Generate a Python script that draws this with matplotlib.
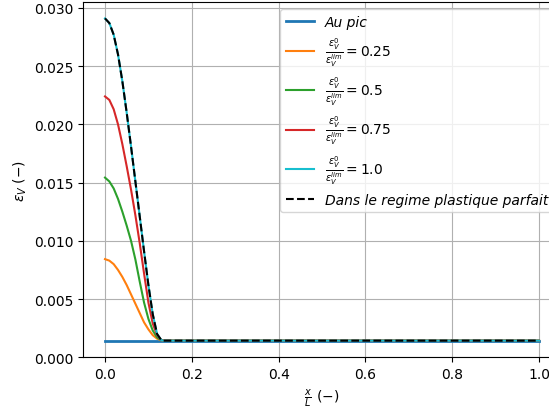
import matplotlib
matplotlib.use("Agg")
import matplotlib.pyplot as plt

# x positions (x/L)
x = [0.0, 0.01, 0.02, 0.03, 0.04, 0.05, 0.06, 0.07, 0.08, 0.09, 0.10, 0.11, 0.12, 0.13, 0.134, 1.0]

base = 0.00143
au_pic = [base] * len(x)
r025 = [0.00843, 0.0083, 0.0080, 0.0075, 0.0069, 0.0062, 0.0054, 0.0046, 0.0038, 0.0030, 0.0024, 0.0019, 0.0016, 0.00146, base, base]
r050 = [0.01543, 0.0151, 0.0145, 0.0136, 0.0125, 0.0113, 0.0100, 0.0084, 0.0065, 0.0047, 0.0033, 0.0023, 0.0017, 0.00146, base, base]
r075 = [0.0224, 0.0221, 0.0213, 0.0200, 0.0183, 0.0164, 0.0144, 0.0122, 0.0098, 0.0072, 0.0047, 0.0029, 0.0019, 0.00146, base, base]
r100 = [0.0291, 0.0287, 0.0277, 0.0260, 0.0237, 0.0210, 0.0181, 0.0151, 0.0121, 0.0091, 0.0062, 0.0037, 0.0020, 0.00146, base, base]
plastique = list(r100)

ratios = ["0.25", "0.5", "0.75", "1.0"]

fig = plt.figure(figsize=(5.49, 4.10), dpi=100)
ax = fig.add_axes([83.3 / 549, (410 - 358.3) / 410, (560.7 - 83.3) / 549, (358.3 - 3.3) / 410])

ax.plot(x, au_pic, color="C0", lw=2, label="Au pic")
for vals, r, c in zip([r025, r050, r075, r100], ratios, ["C1", "C2", "C3", "C9"]):
    ax.plot(x, vals, color=c, label=r"$\frac{\epsilon_V^0}{\epsilon_V^{lim}} = %s$" % r)
ax.plot(x, plastique, "k--", label="Dans le regime plastique parfait")

ax.set_xlim(-0.05, 1.05)
ax.set_ylim(bottom=0)
ax.grid(True)
ax.set_xlabel(r"$\frac{x}{L}$ $(-)$")
ax.set_ylabel(r"$\epsilon_V$ $(-)$")
ax.legend(loc="upper right", prop={"style": "italic", "size": 10})

fig.savefig("out.png", dpi=100)
